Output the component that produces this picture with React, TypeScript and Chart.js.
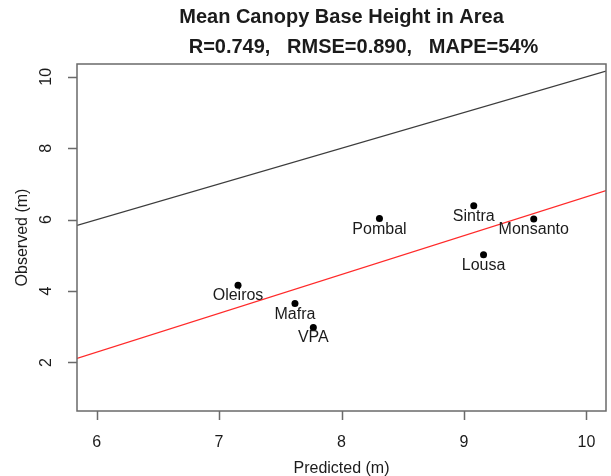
import React, { useEffect, useRef } from 'react';
import { Chart, registerables } from 'chart.js';

Chart.register(...registerables);

// ---- data ----
const siteNames = ['Oleiros', 'Mafra', 'VPA', 'Pombal', 'Sintra', 'Monsanto', 'Lousa'];
const predicted = [7.155, 7.62, 7.77, 8.31, 9.08, 9.57, 9.16];
const observed = [4.16, 3.65, 2.98, 6.03, 6.39, 6.02, 5.02];
const xTicks = [6, 7, 8, 9, 10];
const yTicks = [2, 4, 6, 8, 10];
const xLimits = [5.84, 10.16];
const yLimits = [0.64, 10.36];
const fitIntercept = -4.24;
const fitSlope = 1.088;
const titleLines = ['Mean Canopy Base Height in Area', 'R=0.749,   RMSE=0.890,   MAPE=54%'];
const xTitle = 'Predicted (m)';
const yTitle = 'Observed (m)';

const FONT = '"Liberation Sans", Arial, Helvetica, sans-serif';
const TEXT = '#1b1b1b';

export default function App() {
  const ref = useRef<HTMLCanvasElement>(null);

  useEffect(() => {
    document.body.style.margin = '0';
    const canvas = ref.current;
    if (!canvas) return;

    const rAxes = {
      id: 'rAxes',
      afterDatasetsDraw(chart: any) {
        const c = chart.ctx as CanvasRenderingContext2D;
        const meta = chart.getDatasetMeta(2);
        c.save();
        c.fillStyle = TEXT;
        c.font = `16px ${FONT}`;
        c.textAlign = 'center';
        c.textBaseline = 'alphabetic';
        meta.data.forEach((el: any, i: number) => {
          c.fillText(siteNames[i], el.x, el.y + 15);
        });
        c.restore();
      },
      afterDraw(chart: any) {
        const c = chart.ctx as CanvasRenderingContext2D;
        const a = chart.chartArea;
        const xs = chart.scales.x;
        const ys = chart.scales.y;
        c.save();
        // box
        c.strokeStyle = '#6a6a6a';
        c.lineWidth = 1.5;
        c.strokeRect(a.left, a.top, a.right - a.left, a.bottom - a.top);
        // ticks
        c.beginPath();
        xTicks.forEach((v) => {
          const px = Math.round(xs.getPixelForValue(v)) + 0.5;
          c.moveTo(px, a.bottom);
          c.lineTo(px, a.bottom + 9);
        });
        yTicks.forEach((v) => {
          const py = Math.round(ys.getPixelForValue(v)) + 0.5;
          c.moveTo(a.left, py);
          c.lineTo(a.left - 9, py);
        });
        c.stroke();

        // tick labels
        c.fillStyle = TEXT;
        c.font = `16px ${FONT}`;
        c.textAlign = 'center';
        c.textBaseline = 'middle';
        xTicks.forEach((v) => {
          c.fillText(String(v), xs.getPixelForValue(v), 443);
        });
        yTicks.forEach((v) => {
          c.save();
          c.translate(47, ys.getPixelForValue(v));
          c.rotate(-Math.PI / 2);
          c.fillText(String(v), 0, 0);
          c.restore();
        });

        // axis titles
        const cx = (a.left + a.right) / 2;
        const cy = (a.top + a.bottom) / 2;
        c.fillText(xTitle, cx, 469);
        c.save();
        c.translate(23, cy);
        c.rotate(-Math.PI / 2);
        c.fillText(yTitle, 0, 0);
        c.restore();

        // main title
        c.font = `bold 20px ${FONT}`;
        c.textBaseline = 'alphabetic';
        c.fillText(titleLines[0], cx, 23);
        c.fillText(titleLines[1], cx + 22, 53);
        c.restore();
      },
    };

    const points = predicted.map((x, i) => ({ x, y: observed[i] }));
    const oneToOne = xLimits.map((x) => ({ x, y: x }));
    const fitLine = xLimits.map((x) => ({ x, y: fitIntercept + fitSlope * x }));

    const chart = new Chart(canvas, {
      type: 'scatter',
      data: {
        datasets: [
          {
            label: '1:1',
            data: oneToOne,
            showLine: true,
            borderColor: '#3c3c3c',
            borderWidth: 1.2,
            pointRadius: 0,
            fill: false,
          },
          {
            label: 'fit',
            data: fitLine,
            showLine: true,
            borderColor: '#ff2a2a',
            borderWidth: 1.2,
            pointRadius: 0,
            fill: false,
          },
          {
            label: 'sites',
            data: points,
            showLine: false,
            pointRadius: 3.5,
            pointBackgroundColor: '#000000',
            pointBorderColor: '#000000',
            pointBorderWidth: 0,
          },
        ],
      },
      options: {
        animation: false,
        responsive: false,
        events: [],
        layout: { padding: { left: 77, top: 64, right: 5, bottom: 65 } },
        plugins: {
          legend: { display: false },
          tooltip: { enabled: false },
          title: { display: false },
        },
        scales: {
          x: { type: 'linear', min: xLimits[0], max: xLimits[1], display: false },
          y: { type: 'linear', min: yLimits[0], max: yLimits[1], display: false },
        },
      },
      plugins: [rAxes],
    });

    return () => chart.destroy();
  }, []);

  return (
    <div style={{ width: 611, height: 476, background: '#ffffff' }}>
      <canvas ref={ref} width={611} height={476} style={{ display: 'block' }} />
    </div>
  );
}
